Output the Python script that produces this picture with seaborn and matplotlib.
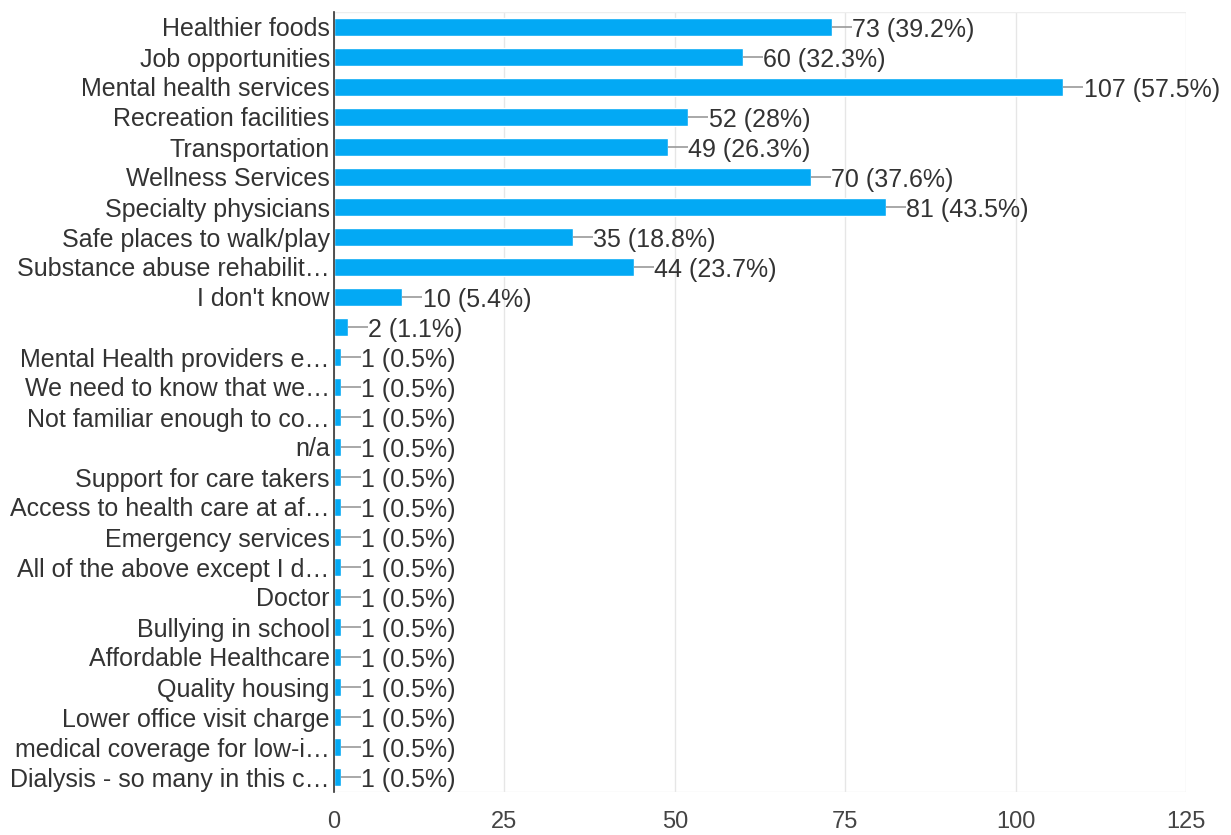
import matplotlib
matplotlib.use("Agg")
import matplotlib.pyplot as plt
import seaborn as sns
import pandas as pd

categories = [
    "Healthier foods",
    "Job opportunities",
    "Mental health services",
    "Recreation facilities",
    "Transportation",
    "Wellness Services",
    "Specialty physicians",
    "Safe places to walk/play",
    "Substance abuse rehabilit\u2026",
    "I don't know",
    "",
    "Mental Health providers e\u2026",
    "We need to know that we\u2026",
    "Not familiar enough to co\u2026",
    "n/a",
    "Support for care takers",
    "Access to health care at af\u2026",
    "Emergency services",
    "All of the above except I d\u2026",
    "Doctor",
    "Bullying in school",
    "Affordable Healthcare",
    "Quality housing",
    "Lower office visit charge",
    "medical coverage for low-i\u2026",
    "Dialysis - so many in this c\u2026",
]
counts = [73, 60, 107, 52, 49, 70, 81, 35, 44, 10, 2] + [1] * 15
percents = ["39.2", "32.3", "57.5", "28", "26.3", "37.6", "43.5", "18.8",
            "23.7", "5.4", "1.1"] + ["0.5"] * 15
x_ticks = [0, 25, 50, 75, 100, 125]

df = pd.DataFrame({"answer": categories, "count": counts})

sns.set_theme(style="white")
plt.rcParams["font.family"] = ["Liberation Sans", "DejaVu Sans"]

fig = plt.figure(figsize=(12.31, 8.35), dpi=100)
ax = fig.add_axes([334 / 1231, 1 - 792 / 835, (1186 - 334) / 1231, (792 - 12) / 835])

bar_color = "#03A9F4"
sns.barplot(data=df, x="count", y="answer", order=categories, color=bar_color,
            saturation=1, width=0.6, ax=ax, zorder=3)

text_color = "#333333"
ax.set_xlim(0, 125)
ax.set_ylim(len(categories) - 0.5, -0.5)
ax.set_xticks(x_ticks)
ax.set_xticklabels([str(t) for t in x_ticks], fontsize=17, color="#444444")
ax.tick_params(axis="x", length=0, pad=14)
ax.tick_params(axis="y", length=0, pad=3, labelsize=18, labelcolor=text_color)
for lbl in ax.get_yticklabels():
    lbl.set_verticalalignment("center_baseline")
ax.set_xlabel("")
ax.set_ylabel("")

ax.grid(axis="x", color="#e6e6e6", linewidth=1, zorder=0)
for side in ["top", "bottom", "right"]:
    ax.spines[side].set_visible(False)
ax.spines["left"].set_color("#333333")
ax.spines["left"].set_linewidth(1.2)
ax.spines["left"].set_zorder(5)
ax.axhline(-0.5, color="#eeeeee", linewidth=1, zorder=1)
ax.axhline(len(categories) - 0.5, color="#eeeeee", linewidth=1, zorder=1)

# leader line + value label next to each bar
unit_px = (1186 - 334) / 125.0
lead = 20 / unit_px
for i, (v, p) in enumerate(zip(counts, percents)):
    ax.plot([v, v + lead], [i, i], color="#999999", linewidth=1.2, zorder=4,
            solid_capstyle="butt")
    ax.text(v + lead + 0.05, i, f"{v} ({p}%)", va="center_baseline", ha="left",
            fontsize=18, color=text_color, zorder=4)

fig.savefig("out.png", dpi=100, facecolor="white")
